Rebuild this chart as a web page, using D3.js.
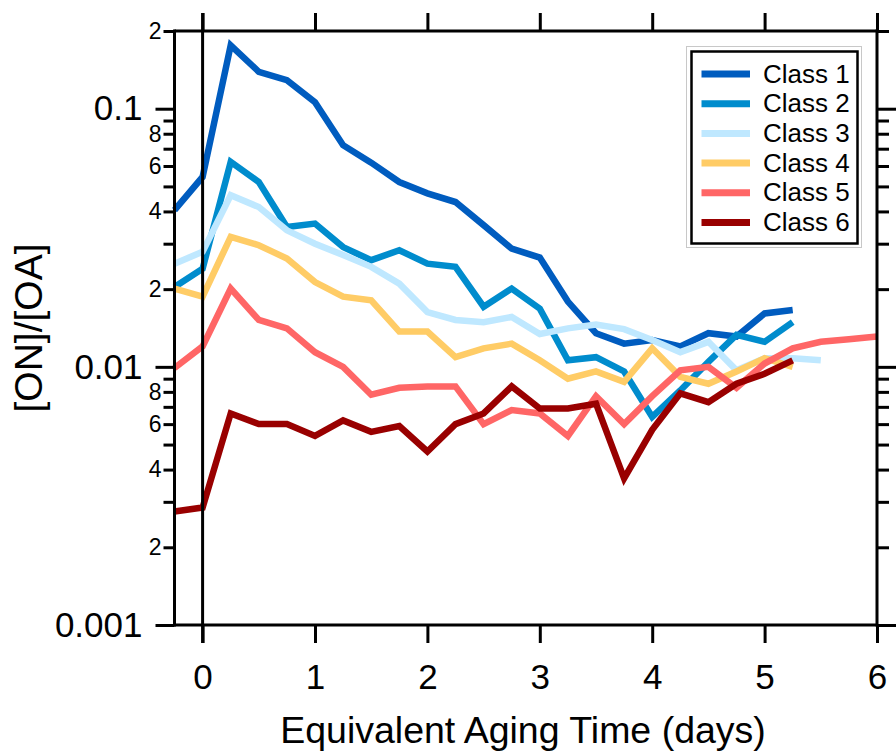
<!DOCTYPE html>
<html>
<head>
<meta charset="utf-8">
<script src="https://cdn.jsdelivr.net/npm/d3@7"></script>
<style>
  html, body { margin: 0; padding: 0; background: #fff; }
  svg { display: block; font-family: "Liberation Sans", Arial, sans-serif; }
</style>
</head>
<body>
<svg id="chart" width="896" height="752"></svg>
<script>
// ---- data ----
const days = [-0.25, 0, 0.25, 0.5, 0.75, 1, 1.25, 1.5, 1.75, 2, 2.25, 2.5, 2.75, 3, 3.25, 3.5, 3.75, 4, 4.25, 4.5, 4.75, 5, 5.25, 5.5, 5.75, 6];
const classNames = ["Class 1", "Class 2", "Class 3", "Class 4", "Class 5", "Class 6"];
const class1 = [0.0405, 0.0544, 0.176, 0.139, 0.129, 0.106, 0.0722, 0.0618, 0.052, 0.047, 0.0435, 0.0354, 0.0287, 0.0265, 0.0179, 0.0135, 0.0123, 0.0127, 0.0120, 0.0135, 0.0131, 0.0161, 0.0166, null, null, null];
const class2 = [0.0204, 0.024, 0.0622, 0.052, 0.0348, 0.0359, 0.0291, 0.0259, 0.0283, 0.0251, 0.0244, 0.0171, 0.0201, 0.0168, 0.0106, 0.0109, 0.0096, 0.0064, 0.0081, 0.01045, 0.0133, 0.0125, 0.0149, null, null, null];
const class3 = [0.0251, 0.0279, 0.0462, 0.0416, 0.0338, 0.030, 0.0271, 0.0244, 0.021, 0.0163, 0.0152, 0.0149, 0.0156, 0.0134, 0.0141, 0.0146, 0.0140, 0.0127, 0.0114, 0.0125, 0.0097, 0.0108, 0.0108, 0.0106, null, null];
const class4 = [0.0201, 0.0187, 0.0319, 0.0296, 0.0263, 0.0213, 0.0187, 0.0181, 0.0137, 0.0137, 0.0109, 0.0118, 0.0123, 0.0106, 0.0090, 0.0096, 0.00875, 0.0118, 0.00915, 0.0086, 0.0096, 0.0108, 0.0100, null, null, null];
const class5 = [0.0099, 0.0120, 0.0201, 0.0152, 0.0141, 0.0114, 0.0100, 0.0078, 0.0083, 0.0084, 0.0084, 0.0060, 0.0068, 0.0066, 0.0054, 0.0077, 0.0060, 0.0077, 0.0097, 0.0100, 0.0083, 0.0103, 0.0118, 0.0125, 0.0128, 0.0131];
const class6 = [0.00275, 0.00285, 0.0066, 0.0060, 0.0060, 0.0054, 0.0062, 0.0056, 0.0059, 0.0047, 0.0060, 0.0066, 0.0084, 0.0069, 0.0069, 0.0072, 0.0037, 0.0057, 0.0079, 0.0073, 0.0086, 0.0094, 0.0106, null, null, null];
const classColors = ["#005cbf", "#008ccd", "#bfe8ff", "#ffcc66", "#ff6666", "#990000"];

const xTicks = [0, 1, 2, 3, 4, 5, 6];
const yMajorTicks = [0.001, 0.01, 0.1];
const yMinorTicks = [0.002, 0.003, 0.004, 0.005, 0.006, 0.007, 0.008, 0.009,
                     0.02, 0.03, 0.04, 0.05, 0.06, 0.07, 0.08, 0.09, 0.2];
const yMinorLabels = ["2", "", "4", "", "6", "", "8", "",
                      "2", "", "4", "", "6", "", "8", "", "2"];
const xTitle = "Equivalent Aging Time (days)";
const yTitle = "[ON]/[OA]";

// ---- layout ----
const svg = d3.select("#chart");
const L = 174.5, R = 877, T = 31, B = 625;
const x = d3.scaleLinear().domain([-0.25, 6]).range([L, R]);
const y = d3.scaleLog().domain([0.001, 0.2]).range([B, T]);
const AX = 3;

svg.append("rect").attr("width", 896).attr("height", 752).attr("fill", "#fff");

// lines
const series = [class1, class2, class3, class4, class5, class6];
const line = d3.line()
  .defined(d => d.v != null)
  .x(d => x(d.t))
  .y(d => y(d.v));
const gLines = svg.append("g");
series.forEach((s, i) => {
  gLines.append("path")
    .datum(days.map((t, k) => ({ t, v: s[k] })))
    .attr("fill", "none")
    .attr("stroke", classColors[i])
    .attr("stroke-width", 6.5)
    .attr("stroke-linejoin", "miter")
    .attr("d", line);
});

function styleAxis(g, fontSize) {
  g.select(".domain").remove();
  g.selectAll(".tick line").attr("stroke", "#000").attr("stroke-width", AX);
  g.selectAll(".tick text").attr("fill", "#000").attr("font-size", fontSize)
    .attr("font-family", "'Liberation Sans', Arial, sans-serif");
}

// left axis: minor then major
const minorFmt = d => yMinorLabels[yMinorTicks.indexOf(d)];
svg.append("g").attr("transform", `translate(${L},0)`)
  .call(d3.axisLeft(y).tickValues(yMinorTicks).tickSize(11).tickPadding(2).tickFormat(minorFmt))
  .call(g => styleAxis(g, 23));
svg.append("g").attr("transform", `translate(${L},0)`)
  .call(d3.axisLeft(y).tickValues(yMajorTicks).tickSize(19).tickPadding(13).tickFormat(d3.format("")))
  .call(g => styleAxis(g, 35));

// right axis (no labels)
svg.append("g").attr("transform", `translate(${R},0)`)
  .call(d3.axisRight(y).tickValues(yMinorTicks).tickSize(12).tickFormat(""))
  .call(g => styleAxis(g, 10));
svg.append("g").attr("transform", `translate(${R},0)`)
  .call(d3.axisRight(y).tickValues(yMajorTicks).tickSize(19).tickFormat(""))
  .call(g => styleAxis(g, 10));

// bottom & top axes
svg.append("g").attr("transform", `translate(0,${B})`)
  .call(d3.axisBottom(x).tickValues(xTicks).tickSize(18).tickPadding(21).tickFormat(d3.format("d")))
  .call(g => styleAxis(g, 35));
svg.append("g").attr("transform", `translate(0,${T})`)
  .call(d3.axisTop(x).tickValues(xTicks).tickSize(18).tickFormat(""))
  .call(g => styleAxis(g, 10));

// frame lines
const frame = svg.append("g").attr("stroke", "#000").attr("stroke-width", AX).attr("fill", "none");
frame.append("line").attr("x1", L).attr("x2", L).attr("y1", T - 1.5).attr("y2", B + 1.5);
frame.append("line").attr("x1", R).attr("x2", R).attr("y1", T - 1.5).attr("y2", B + 1.5);
frame.append("line").attr("x1", L).attr("x2", R).attr("y1", T).attr("y2", T);
frame.append("line").attr("x1", L).attr("x2", R).attr("y1", B).attr("y2", B);
// zero line
frame.append("line").attr("x1", x(0)).attr("x2", x(0)).attr("y1", T - 18).attr("y2", B + 18);

// titles
svg.append("text").attr("x", 523).attr("y", 743)
  .attr("text-anchor", "middle").attr("font-size", 37.5).attr("fill", "#000").text(xTitle);
svg.append("text").attr("transform", "translate(42,328) rotate(-90)")
  .attr("text-anchor", "middle").attr("font-size", 39).attr("fill", "#000").text(yTitle);

// legend
const lg = svg.append("g");
lg.append("rect").attr("x", 686.5).attr("y", 46.5).attr("width", 175).attr("height", 201)
  .attr("fill", "#fff").attr("stroke", "#c8c8c8").attr("stroke-width", 1);
lg.append("rect").attr("x", 691.5).attr("y", 51.5).attr("width", 166).attr("height", 192)
  .attr("fill", "#fff").attr("stroke", "#000").attr("stroke-width", 2.5);
const ly = d3.scalePoint().domain(classNames).range([74, 222.5]);
classNames.forEach((n, i) => {
  lg.append("line").attr("x1", 701.5).attr("x2", 750).attr("y1", ly(n)).attr("y2", ly(n))
    .attr("stroke", classColors[i]).attr("stroke-width", 7);
  lg.append("text").attr("x", 763).attr("y", ly(n) + 8.5).attr("font-size", 26)
    .attr("fill", "#000").text(n);
});
</script>
</body>
</html>
